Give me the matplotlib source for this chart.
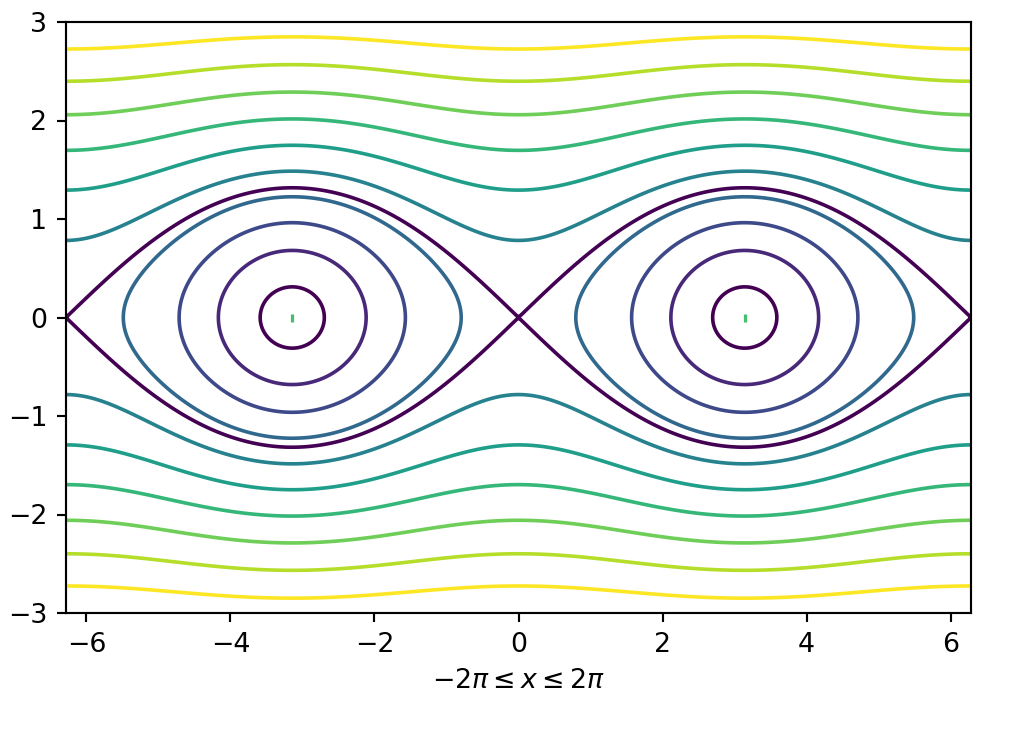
import numpy as np
import matplotlib
matplotlib.use('Agg')
import matplotlib.pyplot as plt

# cat's eye flow: psi = log(cosh(y) + eps*cos(x))
eps = 0.5
x_min, x_max = -2 * np.pi, 2 * np.pi
y_min, y_max = -3, 3
levels = [-0.6, -0.3, 0.0, 0.3, 0.6, 0.9, 1.2, 1.5, 1.8, 2.1]
separatrix_level = np.log(1 + eps)
fixed_x = [-np.pi, np.pi]
fixed_y = [0, 0]

x = np.linspace(x_min, x_max, 500)
y = np.linspace(y_min, y_max, 500)
X, Y = np.meshgrid(x, y)
Z = np.log(np.cosh(Y) + eps * np.cos(X))

dpi = 193
fig = plt.figure(figsize=(1034 / dpi, 736 / dpi), dpi=dpi)
ax = fig.add_axes([66 / 1034, 123 / 736, 905 / 1034, 591 / 736])

ax.contour(X, Y, Z, levels=levels, cmap='viridis', linewidths=1.35)
ax.contour(X, Y, Z, levels=[separatrix_level], colors=[plt.cm.viridis(0.0)],
           linewidths=1.35)
ax.plot(fixed_x, fixed_y, '|', color=plt.cm.viridis(0.7), ms=3, mew=1.2)

ax.set_xlim(x_min, x_max)
ax.set_ylim(y_min, y_max)
ax.set_xlabel(r'$-2\pi \leq x \leq 2\pi$')

fig.savefig('out.png', dpi=dpi)
plt.close(fig)
